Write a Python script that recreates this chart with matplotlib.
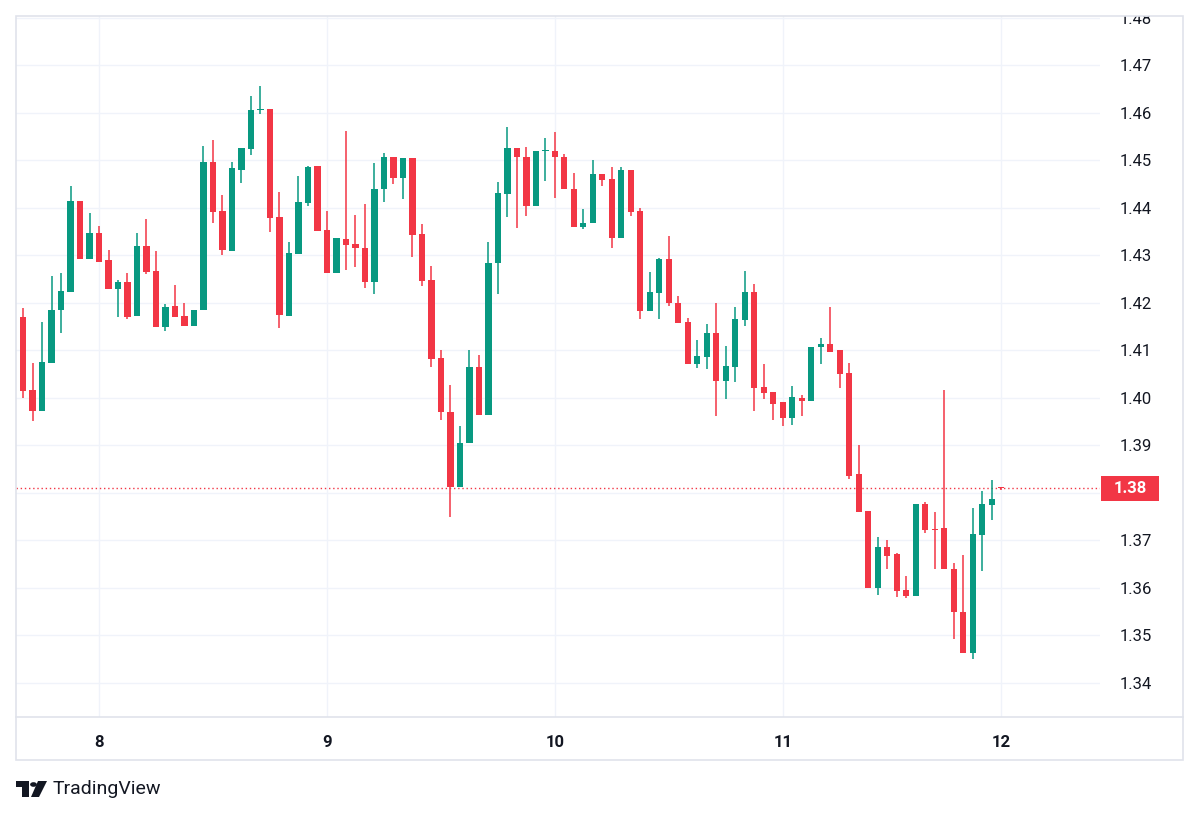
import numpy as np
import matplotlib
matplotlib.use("Agg")
import matplotlib.pyplot as plt
from matplotlib.patches import Rectangle, Circle, Polygon
from matplotlib import transforms

# hourly candles, index 0 .. 103
opens = [1.4170, 1.4017, 1.3973, 1.4074, 1.4185, 1.4224, 1.4415, 1.4293, 1.4348, 1.4291,
         1.4229, 1.4244, 1.4173, 1.4319, 1.4268, 1.4149, 1.4194, 1.4173, 1.4152, 1.4185,
         1.4497, 1.4394, 1.4310, 1.4481, 1.4524, 1.4606, 1.4608, 1.4380, 1.4173, 1.4303,
         1.4410, 1.4488, 1.4354, 1.4264, 1.4334, 1.4324, 1.4315, 1.4245, 1.4439, 1.4508,
         1.4464, 1.4505, 1.4345, 1.4248, 1.4084, 1.3971, 1.3813, 1.3905, 1.4065, 1.3964,
         1.4285, 1.4429, 1.4526, 1.4507, 1.4404, 1.4520, 1.4521, 1.4507, 1.4441, 1.4359,
         1.4368, 1.4471, 1.4460, 1.4337, 1.4479, 1.4394, 1.4183, 1.4220, 1.4292, 1.4201,
         1.4159, 1.4072, 1.4087, 1.4137, 1.4036, 1.4066, 1.4164, 1.4223, 1.4023, 1.4012,
         1.3991, 1.3958, 1.4001, 1.3994, 1.4107, 1.4114, 1.4100, 1.4052, 1.3839, 1.3762,
         1.3599, 1.3687, 1.3671, 1.3596, 1.3583, 1.3777, 1.3725, 1.3726, 1.3641, 1.3550,
         1.3464, 1.3712, 1.3775, 1.3812]
highs = [1.4190, 1.4074, 1.4161, 1.4257, 1.4263, 1.4446, 1.4415, 1.4389, 1.4362, 1.4312,
         1.4248, 1.4263, 1.4348, 1.4376, 1.4310, 1.4197, 1.4238, 1.4201, 1.4185, 1.4530,
         1.4543, 1.4427, 1.4497, 1.4526, 1.4636, 1.4657, 1.4608, 1.4433, 1.4329, 1.4467,
         1.4488, 1.4488, 1.4394, 1.4336, 1.4562, 1.4385, 1.4408, 1.4494, 1.4515, 1.4508,
         1.4505, 1.4505, 1.4366, 1.4278, 1.4100, 1.4027, 1.3940, 1.4100, 1.4091, 1.4329,
         1.4455, 1.4570, 1.4526, 1.4529, 1.4521, 1.4547, 1.4559, 1.4513, 1.4473, 1.4397,
         1.4500, 1.4471, 1.4486, 1.4487, 1.4479, 1.4401, 1.4266, 1.4294, 1.4340, 1.4215,
         1.4169, 1.4122, 1.4156, 1.4201, 1.4110, 1.4191, 1.4268, 1.4241, 1.4071, 1.4012,
         1.3991, 1.4025, 1.4006, 1.4108, 1.4126, 1.4191, 1.4100, 1.4074, 1.3900, 1.3762,
         1.3708, 1.3701, 1.3673, 1.3625, 1.3777, 1.3782, 1.3761, 1.4017, 1.3652, 1.3669,
         1.3768, 1.3805, 1.3827, 1.3812]
lows = [1.3999, 1.3952, 1.3973, 1.4074, 1.4136, 1.4224, 1.4293, 1.4293, 1.4287, 1.4229,
        1.4170, 1.4166, 1.4173, 1.4260, 1.4149, 1.4140, 1.4170, 1.4152, 1.4152, 1.4185,
        1.4368, 1.4301, 1.4310, 1.4452, 1.4512, 1.4597, 1.4350, 1.4147, 1.4173, 1.4303,
        1.4404, 1.4352, 1.4264, 1.4264, 1.4269, 1.4276, 1.4231, 1.4218, 1.4413, 1.4450,
        1.4418, 1.4296, 1.4236, 1.4066, 1.3954, 1.3749, 1.3813, 1.3905, 1.3964, 1.3964,
        1.4219, 1.4382, 1.4357, 1.4384, 1.4404, 1.4457, 1.4420, 1.4439, 1.4359, 1.4356,
        1.4368, 1.4446, 1.4316, 1.4337, 1.4383, 1.4166, 1.4183, 1.4166, 1.4194, 1.4157,
        1.4072, 1.4064, 1.4060, 1.3962, 1.3997, 1.4034, 1.4152, 1.3973, 1.3997, 1.3954,
        1.3941, 1.3944, 1.3962, 1.3994, 1.4072, 1.4097, 1.4020, 1.3829, 1.3759, 1.3601,
        1.3585, 1.3639, 1.3580, 1.3578, 1.3583, 1.3716, 1.3639, 1.3639, 1.3492, 1.3464,
        1.3450, 1.3636, 1.3743, 1.3806]
closes = [1.4015, 1.3973, 1.4076, 1.4185, 1.4225, 1.4415, 1.4293, 1.4348, 1.4287, 1.4229,
          1.4244, 1.4171, 1.4319, 1.4265, 1.4149, 1.4192, 1.4170, 1.4152, 1.4185, 1.4497,
          1.4392, 1.4312, 1.4485, 1.4526, 1.4606, 1.4609, 1.4378, 1.4175, 1.4306, 1.4412,
          1.4487, 1.4352, 1.4264, 1.4336, 1.4322, 1.4315, 1.4245, 1.4441, 1.4507, 1.4464,
          1.4505, 1.4343, 1.4247, 1.4082, 1.3971, 1.3813, 1.3905, 1.4065, 1.3964, 1.4285,
          1.4432, 1.4526, 1.4507, 1.4404, 1.4521, 1.4522, 1.4507, 1.4439, 1.4359, 1.4368,
          1.4471, 1.4459, 1.4337, 1.4479, 1.4391, 1.4183, 1.4223, 1.4293, 1.4199, 1.4157,
          1.4072, 1.4088, 1.4137, 1.4036, 1.4067, 1.4166, 1.4223, 1.4020, 1.4010, 1.3987,
          1.3958, 1.4002, 1.3994, 1.4108, 1.4114, 1.4097, 1.4051, 1.3836, 1.3759, 1.3601,
          1.3687, 1.3667, 1.3594, 1.3583, 1.3777, 1.3722, 1.3723, 1.3639, 1.3549, 1.3464,
          1.3713, 1.3777, 1.3787, 1.3810]

last_price = 1.3810
price_ticks = [1.34, 1.35, 1.36, 1.37, 1.38, 1.39, 1.40, 1.41, 1.42, 1.43, 1.44, 1.45, 1.46, 1.47, 1.48]
day_pos = [8, 32, 56, 80, 103]
day_labels = ["8", "9", "10", "11", "12"]

UP = "#089981"
DOWN = "#f23645"
GRID = "#f0f3fa"
FRAME = "#e0e3eb"
TEXT = "#131722"

W, H = 1200, 817
def fx(x):
    return x / W
def fy(y):
    return 1 - y / H

plt.rcParams["font.family"] = ["Roboto", "DejaVu Sans"]

fig = plt.figure(figsize=(12, 8.17), dpi=100)
ax = fig.add_axes([fx(16), fy(717), fx(1100) - fx(16), fy(16) - fy(717)])

o = np.array(opens)
h = np.array(highs)
l = np.array(lows)
c = np.array(closes)
idx = np.arange(len(o))
colors = np.where(c >= o, UP, DOWN)

ax.vlines(idx, l, h, colors=colors, linewidth=1.1, zorder=3)
body_low = np.minimum(o, c)
body_h = np.maximum(np.abs(c - o), 0.00022)
ax.bar(idx, body_h, bottom=body_low, width=0.66, color=colors, edgecolor="none", zorder=4)

ax.set_xlim(-0.74, 113.4)
ax.set_ylim(1.33284, 1.48042)

ax.set_yticks(price_ticks)
ax.set_yticklabels(["" if abs(p - 1.38) < 1e-9 else f"{p:.2f}" for p in price_ticks])
ax.yaxis.tick_right()
ax.tick_params(axis="y", length=0, pad=14, labelsize=12, labelcolor=TEXT)
ax.set_xticks(day_pos)
ax.set_xticklabels(day_labels, fontweight="bold")
ax.tick_params(axis="x", length=0, pad=13, labelsize=12, labelcolor=TEXT)
ax.grid(True, color=GRID, linewidth=1, zorder=0)
ax.set_axisbelow(True)
for s in ax.spines.values():
    s.set_visible(False)

# clip the top price label like the chart frame does
clip_rect = Rectangle((0, 0), 1, fy(16), transform=fig.transFigure, visible=False)
fig.add_artist(clip_rect)
for lab in ax.get_yticklabels():
    lab.set_clip_path(clip_rect)

# last price line and label
ax.axhline(last_price, color=DOWN, linewidth=1, linestyle=(0, (1, 2)), zorder=2)
blend = transforms.blended_transform_factory(fig.transFigure, ax.transData)
box_h = 25 / 4750
ax.add_patch(Rectangle((fx(1101), last_price - box_h / 2), fx(1159) - fx(1101), box_h,
                       transform=blend, facecolor=DOWN, edgecolor="none", clip_on=False, zorder=6))
ax.text(fx(1130), last_price, "1.38", transform=blend, ha="center", va="center",
        color="white", fontsize=12, fontweight="bold", clip_on=False, zorder=7)

# chart frame
fig.add_artist(Rectangle((fx(16), fy(760)), fx(1183) - fx(16), fy(16) - fy(760),
                         transform=fig.transFigure, facecolor="none", edgecolor=FRAME, linewidth=1.2))
fig.add_artist(plt.Line2D([fx(16), fx(1183)], [fy(717), fy(717)], transform=fig.transFigure,
                          color=FRAME, linewidth=1.2))

# TradingView logo
fig.add_artist(Polygon([(fx(16), fy(781)), (fx(29), fy(781)), (fx(29), fy(797)), (fx(22), fy(797)),
                        (fx(22), fy(787)), (fx(16), fy(787))], closed=True,
                       transform=fig.transFigure, facecolor=TEXT, edgecolor="none"))
fig.add_artist(Circle((fx(33.5), fy(784.5)), 3.4 / W, transform=fig.transFigure,
                      facecolor=TEXT, edgecolor="none"))
fig.add_artist(Polygon([(fx(38), fy(781)), (fx(47), fy(781)), (fx(39), fy(797)), (fx(31), fy(797))],
                       closed=True, transform=fig.transFigure, facecolor=TEXT, edgecolor="none"))
fig.text(fx(53), fy(789), "TradingView", ha="left", va="center", fontsize=14, color=TEXT)

fig.savefig("out.png", dpi=100, facecolor="white")
